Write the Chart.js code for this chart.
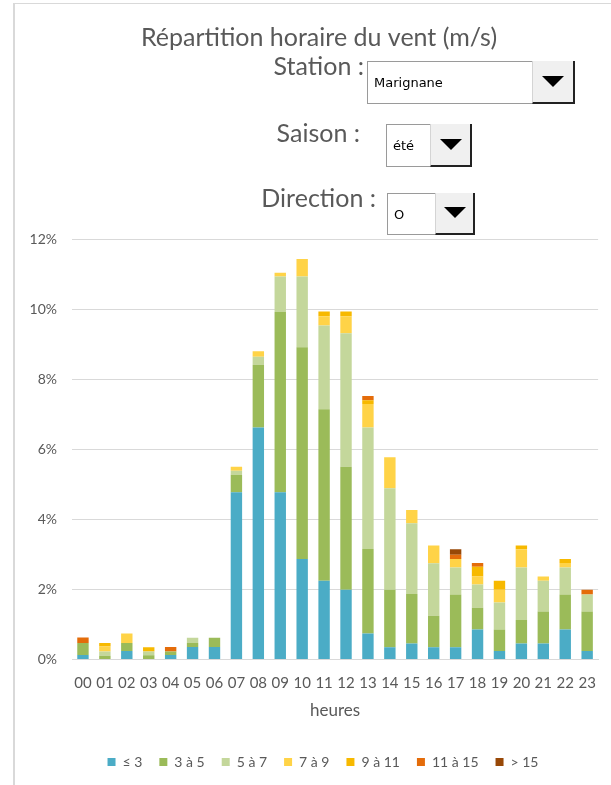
<!DOCTYPE html>
<html>
<head>
<meta charset="utf-8">
<script src="https://cdn.jsdelivr.net/npm/chart.js@4.4.1/dist/chart.umd.min.js"></script>
<style>
  html, body { margin: 0; padding: 0; background: #fff; overflow: hidden; }
  #wrap { position: relative; width: 611px; height: 785px; overflow: hidden; }
  #chart { position: absolute; left: 0; top: 0; }
  #frame { position: absolute; left: 13px; top: 3px; width: 620px; height: 800px;
           border-left: 2px solid #d9d9d9; border-top: 1px solid #d9d9d9; pointer-events: none; }
  .lbl { position: absolute; font: 25px Lato; color: #595959; white-space: nowrap; line-height: 26px; text-align: right; }
  .combo { position: absolute; background: #fff; border: 1px solid #9a9a9a; box-sizing: border-box; }
  .combo .val { position: absolute; left: 6px; top: 0; bottom: 0; display: flex; align-items: center;
                font: 13px 'DejaVu Sans'; color: #000; }
  .combo .btn { position: absolute; top: -1px; right: -1px; bottom: -1px; background: #f0f0f0;
                border-left: 1px solid #d4d4d4; border-right: 2px solid #222; border-bottom: 2px solid #222; box-sizing: border-box; }
  .combo .btn:after { content: ''; position: absolute; left: 50%; top: 50%; margin-left: -11px; margin-top: -6px;
                      border-left: 11px solid transparent; border-right: 11px solid transparent; border-top: 11px solid #000; }
</style>
</head>
<body>
<div id="wrap">
  <canvas id="chart" width="611" height="785"></canvas>
  <div id="frame"></div>

  <div class="lbl" style="right:247px; top:52px;">Station :</div>
  <div class="combo" style="left:367px; top:61px; width:208px; height:43px;">
    <div class="val">Marignane</div>
    <div class="btn" style="width:43px;"></div>
  </div>

  <div class="lbl" style="right:251px; top:119px;">Saison :</div>
  <div class="combo" style="left:386px; top:124px; width:86px; height:43px;">
    <div class="val">été</div>
    <div class="btn" style="width:42px;"></div>
  </div>

  <div class="lbl" style="right:235px; top:184px;">Direction :</div>
  <div class="combo" style="left:387px; top:193px; width:88px; height:42px;">
    <div class="val">O</div>
    <div class="btn" style="width:40px;"></div>
  </div>
</div>

<script>
// hours of the day
const hours = ['00', '01', '02', '03', '04', '05', '06', '07', '08', '09', '10', '11',
               '12', '13', '14', '15', '16', '17', '18', '19', '20', '21', '22', '23'];

// wind speed classes (m/s), values in % of observations
const speedClasses = ['≤ 3', '3 à 5', '5 à 7', '7 à 9', '9 à 11', '11 à 15', '> 15'];
const classColors = ['#4bacc6', '#9bbb59', '#c4d79b', '#ffd347', '#f7b900', '#e46c0a', '#984807'];

const le3    = [0.13, 0,    0.24, 0,    0.13, 0.36, 0.36, 4.78, 6.63, 4.78, 2.87, 2.25,
                1.99, 0.74, 0.35, 0.46, 0.35, 0.35, 0.86, 0.24, 0.46, 0.46, 0.86, 0.24];
const s3to5  = [0.34, 0.11, 0.23, 0.12, 0.10, 0.11, 0.26, 0.50, 1.79, 5.15, 6.05, 4.90,
                3.52, 2.42, 1.64, 1.41, 0.90, 1.51, 0.62, 0.62, 0.67, 0.91, 1.00, 1.13];
const s5to7  = [0,    0.12, 0,    0.11, 0,    0.15, 0,    0.11, 0.23, 1.01, 2.02, 2.39,
                3.81, 3.47, 2.90, 2.02, 1.50, 0.77, 0.66, 0.77, 1.50, 0.88, 0.77, 0.49];
const s7to9  = [0,    0.14, 0.27, 0,    0,    0,    0,    0.12, 0.16, 0.11, 0.50, 0.27,
                0.49, 0.67, 0.89, 0.38, 0.51, 0.24, 0.23, 0.36, 0.52, 0.12, 0.13, 0];
const s9to11 = [0,    0.10, 0,    0.12, 0,    0,    0,    0,    0,    0,    0,    0.13,
                0.13, 0.11, 0,    0,    0,    0,    0.28, 0.26, 0.11, 0,    0.11, 0];
const s11to15 = [0.16, 0,   0,    0,    0.13, 0,    0,    0,    0,    0,    0,    0,
                0,    0.12, 0,    0,    0,    0.12, 0.11, 0,    0,    0,    0,    0.13];
const over15 = [0,    0,    0,    0,    0,    0,    0,    0,    0,    0,    0,    0,
                0,    0,    0,    0,    0,    0.16, 0,    0,    0,    0,    0,    0];

const seriesValues = [le3, s3to5, s5to7, s7to9, s9to11, s11to15, over15];

const yMax = 12;
const yStep = 2;

Chart.defaults.font.family = 'Lato';
Chart.defaults.color = '#595959';

const datasets = seriesValues.map((vals, i) => ({
  label: speedClasses[i],
  data: vals,
  backgroundColor: classColors[i],
  borderWidth: 0,
  barPercentage: 0.52,
  categoryPercentage: 1
}));

// the excel title and legend sit a little right of the plot centre
const nudgeBlocks = {
  id: 'nudgeBlocks',
  afterLayout(chart) {
    chart.titleBlock.left += 5;
    chart.titleBlock.right += 5;
    chart.legend.left += 9;
    chart.legend.right += 9;
  }
};

new Chart(document.getElementById('chart'), {
  type: 'bar',
  data: { labels: hours, datasets: datasets },
  plugins: [nudgeBlocks],
  options: {
    responsive: false,
    animation: false,
    devicePixelRatio: 1,
    layout: { padding: { left: 24, right: 7, top: 20, bottom: 6 } },
    plugins: {
      title: {
        display: true,
        text: 'Répartition horaire du vent (m/s)',
        color: '#595959',
        font: { size: 25, weight: 'normal' },
        padding: { top: 3, bottom: 186.5 }
      },
      legend: {
        position: 'bottom',
        labels: { boxWidth: 8, boxHeight: 8, padding: 17, color: '#595959', font: { size: 14 } }
      },
      tooltip: { enabled: false }
    },
    scales: {
      x: {
        stacked: true,
        grid: { display: false, drawTicks: false },
        border: { display: true, color: '#d9d9d9' },
        ticks: { color: '#595959', font: { size: 15 }, padding: 15, maxRotation: 0, autoSkip: false },
        title: { display: true, text: 'heures', color: '#595959', font: { size: 17 }, padding: { top: 10, bottom: 17 } },
        afterFit: s => { s.height = 78.5; }
      },
      y: {
        stacked: true,
        min: 0,
        max: yMax,
        ticks: { stepSize: yStep, padding: 15, color: '#595959', font: { size: 14 },
                 callback: v => v + '%' },
        grid: { color: '#d9d9d9', drawTicks: false },
        border: { display: false },
        afterFit: s => { s.width = 48; }
      }
    }
  }
});
</script>
</body>
</html>
